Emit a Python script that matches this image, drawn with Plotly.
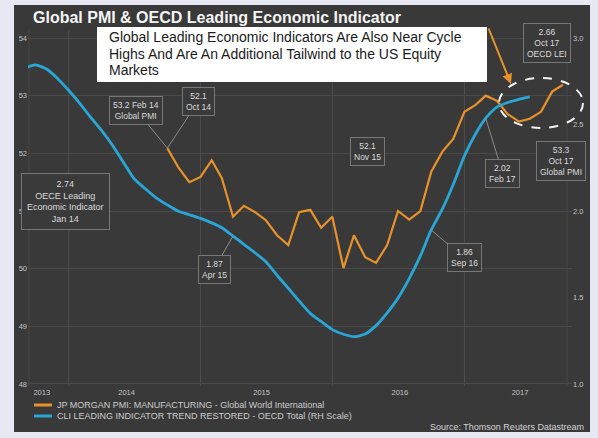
import plotly.graph_objects as go
import pandas as pd

# ---------------- data ----------------
pmi_dates = pd.date_range("2014-10-01", "2017-10-01", freq="MS")
pmi_values = [52.09, 51.75, 51.50, 51.59, 51.88, 51.57, 50.90, 51.09, 50.98, 50.84,
              50.58, 50.41, 50.98, 51.02, 50.71, 50.90, 50.01, 50.58, 50.20, 50.10,
              50.41, 51.00, 50.85, 51.00, 51.68, 52.03, 52.25, 52.72, 52.84, 53.00,
              52.91, 52.68, 52.55, 52.60, 52.72, 53.07, 53.19]

cli_dates = pd.date_range("2013-09-01", "2017-07-01", freq="MS")
cli_values = [2.826, 2.844, 2.819, 2.766, 2.696, 2.621, 2.545, 2.467, 2.383, 2.282,
              2.186, 2.128, 2.074, 2.035, 1.998, 1.978, 1.957, 1.931, 1.903, 1.855,
              1.807, 1.758, 1.706, 1.628, 1.553, 1.480, 1.408, 1.361, 1.314, 1.287,
              1.273, 1.288, 1.337, 1.411, 1.496, 1.609, 1.740, 1.890, 2.012, 2.153,
              2.318, 2.446, 2.536, 2.600, 2.627, 2.645, 2.659]

year_labels = ["2013", "2014", "2015", "2016", "2017"]
year_label_dates = ["2013-10-18", "2014-06-10", "2015-06-19", "2016-07-06", "2017-06-04"]
year_starts = ["2014-01-01", "2015-01-01", "2016-01-01", "2017-01-01"]
pmi_ticks = [48, 49, 50, 51, 52, 53, 54]
cli_ticks = [1.0, 1.5, 2.0, 2.5, 3.0]

pmi_name = "JP MORGAN PMI: MANUFACTURING - Global World International"
cli_name = "CLI LEADING INDICATOR TREND RESTORED - OECD Total (RH Scale)"
title_text = "Global PMI & OECD Leading Economic Indicator"
callout_lines = ["Global Leading Economic Indicators Are Also Near Cycle",
                 "Highs And Are An Additional Tailwind to the US Equity",
                 "Markets"]
source_text = "Source: Thomson Reuters Datastream"

# ---------------- layout helpers ----------------
W, H = 598, 438
L, R, T, B = 28, 26, 30, 52
PW, PH = W - L - R, H - T - B


def px(x):
    return (x - L) / PW


def py(y):
    return 1 - (y - T) / PH


ORANGE = "#e8922a"
BLUE = "#2aa6d6"
FONT = "Liberation Sans, Arial, sans-serif"
BOXTXT = "#dadada"

fig = go.Figure()
fig.add_trace(go.Scatter(x=pmi_dates, y=pmi_values, mode="lines", name=pmi_name,
                         line=dict(color=ORANGE, width=2.2), yaxis="y"))
fig.add_trace(go.Scatter(x=cli_dates, y=cli_values, mode="lines", name=cli_name,
                         line=dict(color=BLUE, width=2.8, shape="spline", smoothing=0.6),
                         yaxis="y2"))

shapes = []
# dark panel
shapes.append(dict(type="rect", xref="paper", yref="paper", x0=px(14), x1=px(590),
                   y0=py(432), y1=py(5), fillcolor="#393939", line=dict(width=0), layer="below"))
# year boundaries
for d in year_starts:
    shapes.append(dict(type="line", xref="x", yref="paper", x0=d, x1=d, y0=0, y1=1,
                       line=dict(color="#4e4e4e", width=1), layer="below"))
# faint frame lines at the plot edges
for xe in (px(29), px(567)):
    shapes.append(dict(type="line", xref="paper", yref="paper", x0=xe, x1=xe, y0=0, y1=1,
                       line=dict(color="#464646", width=1), layer="below"))
# white callout box
shapes.append(dict(type="rect", xref="paper", yref="paper", x0=px(97), x1=px(487),
                   y0=py(82), y1=py(27), fillcolor="#ffffff", line=dict(width=0)))
# dashed highlight ellipse
shapes.append(dict(type="circle", xref="paper", yref="paper", x0=px(499), x1=px(583),
                   y0=py(128), y1=py(78), line=dict(color="#f2f2f2", width=2, dash="dash")))
# legend samples
shapes.append(dict(type="line", xref="paper", yref="paper", x0=px(34), x1=px(52),
                   y0=py(405), y1=py(405), line=dict(color=ORANGE, width=3)))
shapes.append(dict(type="line", xref="paper", yref="paper", x0=px(34), x1=px(52),
                   y0=py(416), y1=py(416), line=dict(color=BLUE, width=3)))

ann = []
# orange arrow from the callout to the ellipse
ann.append(dict(xref="paper", yref="paper", x=px(511), y=py(84), text="", showarrow=True,
                ax=-23, ay=-57, arrowhead=2, arrowsize=1, arrowwidth=2, arrowcolor=ORANGE))
# title
ann.append(dict(xref="paper", yref="paper", x=px(31), y=py(17), xanchor="left", yanchor="middle",
                text="<b>" + title_text + "</b>", showarrow=False,
                font=dict(family=FONT, size=16, color="#f4f4f4")))
# callout text lines
for i, line in enumerate(callout_lines):
    ann.append(dict(xref="paper", yref="paper", x=px(107), y=py(37 + 16.5 * i), xanchor="left",
                    yanchor="middle", text=line, showarrow=False,
                    font=dict(family=FONT, size=14, color="#1a1a1a")))


def box(text, size=8.5, **kw):
    d = dict(text=text, font=dict(family=FONT, size=size, color=BOXTXT), align="center",
             bgcolor="#3a3a3a", bordercolor="#777777", borderwidth=1, borderpad=3,
             xanchor="center", yanchor="middle")
    d.update(kw)
    return d


# boxes with pointer lines to the series
ptr = dict(showarrow=True, arrowhead=0, arrowwidth=1, arrowcolor="#8c8c8c")
ann.append(box("53.2 Feb 14<br>Global PMI", xref="x", yref="y", x=pmi_dates[0], y=pmi_values[0],
               ax=-31, ay=-38, **ptr))
ann.append(box("52.1<br>Oct 14", xref="x", yref="y", x=pmi_dates[0], y=pmi_values[0],
               ax=31, ay=-47, **ptr))
ann.append(box("1.87<br>Apr 15", xref="x", yref="y2", x=cli_dates[19], y=cli_values[19],
               ax=-19, ay=33, **ptr))
ann.append(box("1.86<br>Sep 16", xref="x", yref="y2", x=cli_dates[37], y=cli_values[37],
               ax=33, ay=28, **ptr))
ann.append(box("2.02<br>Feb 17", xref="x", yref="y2", x=cli_dates[42], y=cli_values[42],
               ax=17, ay=55, **ptr))
# free boxes
ann.append(box("2.74<br>OECE Leading<br>Economic Indicator<br>Jan 14", size=9,
               xref="paper", yref="paper", x=px(65), y=py(201), showarrow=False, borderpad=5))
ann.append(box("52.1<br>Nov 15", xref="paper", yref="paper", x=px(367), y=py(151), showarrow=False))
ann.append(box("53.3<br>Oct 17<br>Global PMI", xref="paper", yref="paper", x=px(561), y=py(161),
               showarrow=False))
ann.append(box("2.66<br>Oct 17<br>OECD LEI", xref="paper", yref="paper", x=px(547), y=py(43),
               showarrow=False))
# legend texts
ann.append(dict(xref="paper", yref="paper", x=px(55), y=py(405), xanchor="left", yanchor="middle",
                text=pmi_name, showarrow=False, font=dict(family=FONT, size=9, color="#cccccc")))
ann.append(dict(xref="paper", yref="paper", x=px(55), y=py(416), xanchor="left", yanchor="middle",
                text=cli_name, showarrow=False, font=dict(family=FONT, size=9, color="#cccccc")))
# source
ann.append(dict(xref="paper", yref="paper", x=px(586), y=py(427), xanchor="right", yanchor="middle",
                text=source_text, showarrow=False, font=dict(family=FONT, size=9, color="#d4d4d4")))

tickfont = dict(family=FONT, size=7.5, color="#c4c4c4")
fig.update_layout(
    width=W, height=H, margin=dict(l=L, r=R, t=T, b=B, autoexpand=False),
    paper_bgcolor="#e7e8f4", plot_bgcolor="rgba(0,0,0,0)",
    showlegend=False,
    xaxis=dict(type="date", range=["2013-09-10", "2017-10-26"], tickvals=year_label_dates,
               ticktext=year_labels, showgrid=False, zeroline=False, showline=False, ticks="",
               tickfont=tickfont),
    yaxis=dict(range=[47.965, 54.139], tickvals=pmi_ticks, ticktext=[str(v) for v in pmi_ticks],
               showgrid=True, gridcolor="#4a4a4a", gridwidth=1, zeroline=False, ticks="",
               tickfont=tickfont),
    yaxis2=dict(range=[0.988, 3.046], tickvals=cli_ticks, ticktext=[f"{v:.1f}" for v in cli_ticks],
                overlaying="y", side="right", showgrid=False, zeroline=False, ticks="",
                tickfont=tickfont),
    shapes=shapes, annotations=ann,
)

fig.write_html("out.html", config={"displayModeBar": False},
               post_script="document.body.style.margin='0';document.body.style.overflow='hidden';")
